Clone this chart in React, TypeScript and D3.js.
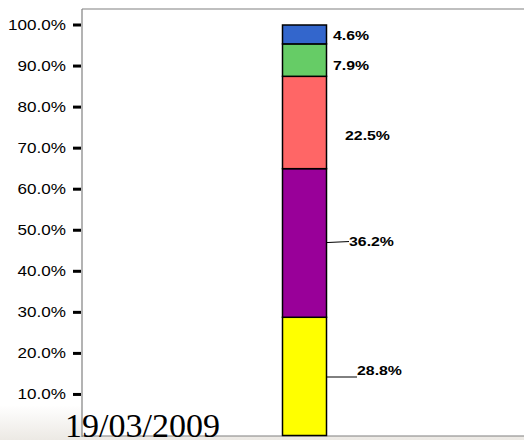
import React from "react";
import * as d3 from "d3";

const categories = ["Yellow", "Purple", "Red", "Green", "Blue"];
const values = [28.8, 36.2, 22.5, 7.9, 4.6];
const colors = ["#FFFF00", "#990099", "#FF6666", "#66CC66", "#3366CC"];
const tickValues = [10, 20, 30, 40, 50, 60, 70, 80, 90, 100];
const dateLabel = "19/03/2009";

export default function App() {
  const W = 524, H = 440;
  const y = d3.scaleLinear().domain([0, 100]).range([435.5, 25]);
  const barX = 282.5, barW = 44;
  let acc = 0;
  const segs = values.map((v, i) => {
    const s = { y0: acc, y1: acc + v, v, c: colors[i], name: categories[i] };
    acc += v;
    return s;
  });
  const labelX = [357, 349, 345, 333, 333];
  const labelVal = [16.0, 47.4, 73.2, 90.3, 97.6];
  const leaderStart = [14.25, 47.0, null, null, null];
  const leaderEnd = [14.25, 47.25, null, null, null];
  const fmt = (v: number) => v.toFixed(1) + "%";
  const sx = 1.22;
  return (
    <div style={{ position: "absolute", left: 0, top: 0 }}>
      <svg width={W} height={H} style={{ display: "block" }}>
        <defs>
          <linearGradient id="bg" x1="0" y1="0" x2="0" y2="1">
            <stop offset="0" stopColor="#ffffff" />
            <stop offset="1" stopColor="#ece9e4" />
          </linearGradient>
        </defs>
        <rect x={0} y={0} width={W} height={H} fill="#fff" />
        <rect x={0} y={405} width={W} height={35} fill="url(#bg)" />
        <rect x={82} y={9} width={W - 82} height={427} fill="#fff" />
        <line x1={82} y1={9} x2={W} y2={9} stroke="#808080" strokeWidth={1.2} />
        <line x1={82} y1={436} x2={W} y2={436} stroke="#808080" strokeWidth={1.2} />
        <line x1={82} y1={9} x2={82} y2={437} stroke="#808080" strokeWidth={1.2} />
        {tickValues.map((t) => (
          <g key={t}>
            <line x1={73} x2={81} y1={y(t)} y2={y(t)} stroke="#000" strokeWidth={3} />
            <g transform={`translate(66,${y(t) + 5}) scale(${sx},1)`}>
              <text textAnchor="end" fontFamily="Liberation Sans, Arial, sans-serif" fontSize={14} fill="#000">
                {t.toFixed(1) + "%"}
              </text>
            </g>
          </g>
        ))}
        {segs.map((s) => (
          <rect key={s.name} x={barX} y={y(s.y1)} width={barW} height={y(s.y0) - y(s.y1)}
            fill={s.c} stroke="#000" strokeWidth={1.5} />
        ))}
        {segs.map((s, i) => {
          const ly = y(labelVal[i]);
          const ls = leaderStart[i];
          const le = leaderEnd[i];
          return (
            <g key={"l" + s.name}>
              {ls !== null && le !== null && (
                <line x1={barX + barW} x2={labelX[i]} y1={y(ls)} y2={y(le)} stroke="#000" strokeWidth={1} />
              )}
              <g transform={`translate(${labelX[i]},${ly + 5}) scale(${sx},1)`}>
                <text fontFamily="Liberation Sans, Arial, sans-serif" fontWeight="bold" fontSize={13} fill="#000">
                  {fmt(s.v)}
                </text>
              </g>
            </g>
          );
        })}
        <text x={65} y={437} fontFamily="Liberation Serif, Times New Roman, serif" fontSize={34}
          textLength={155} lengthAdjust="spacingAndGlyphs" fill="#000">
          {dateLabel}
        </text>
      </svg>
    </div>
  );
}
